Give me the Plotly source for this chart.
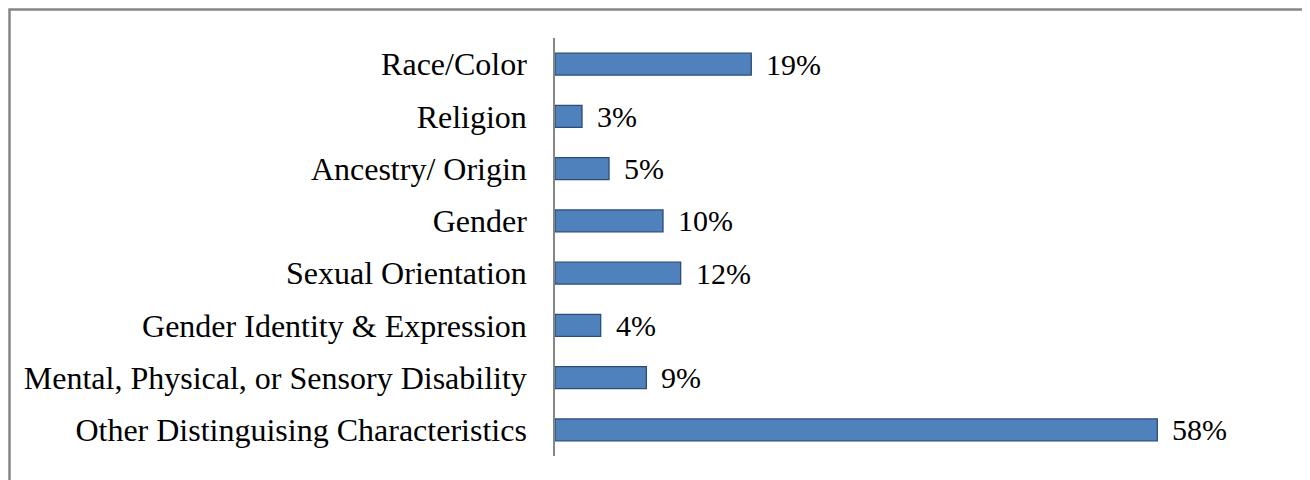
import plotly.graph_objects as go

categories = ["Race/Color", "Religion", "Ancestry/ Origin", "Gender", "Sexual Orientation",
              "Gender Identity & Expression", "Mental, Physical, or Sensory Disability",
              "Other Distinguising Characteristics"]
values = [18.9, 2.6, 5.2, 10.4, 12.1, 4.4, 8.8, 58.0]
labels = ["19%", "3%", "5%", "10%", "12%", "4%", "9%", "58%"]

OFF = 8  # page body margin
W, H = 1310 - OFF, 480 - OFF
ml, mt = 555 - OFF, 38 - OFF
mr, mb = 80, 24
pw, ph = W - ml - mr, H - mt - mb

FONT = "Liberation Serif, Times New Roman, serif"

fig = go.Figure()
fig.add_trace(go.Bar(
    y=categories, x=values, orientation="h",
    marker=dict(color="#4F81BD", line=dict(color="#2C4D75", width=1.3)),
    width=0.42, hoverinfo="skip",
))
for c, v, t in zip(categories, values, labels):
    fig.add_annotation(x=v, y=c, text=t, showarrow=False, xanchor="left", xshift=13,
                       font=dict(family=FONT, size=30, color="#000"))

fig.add_shape(type="rect", xref="paper", yref="paper",
              x0=(1.5 - ml) / pw, x1=1.3, y0=-0.3, y1=1 + (mt - 1.5) / ph,
              line=dict(color="#868686", width=2.5), fillcolor="rgba(0,0,0,0)", layer="below")

fig.update_layout(
    width=W, height=H,
    margin=dict(l=ml, r=mr, t=mt, b=mb),
    plot_bgcolor="white", paper_bgcolor="white",
    showlegend=False,
    font=dict(family=FONT, size=32, color="#000"),
    xaxis=dict(range=[0, 65], visible=False, showgrid=False, zeroline=False),
    yaxis=dict(autorange="reversed", showline=True, linecolor="#868686", linewidth=1.5,
               ticks="", showgrid=False, zeroline=False, ticklabelstandoff=20,
               tickfont=dict(size=32)),
)
fig.write_html("out.html")
